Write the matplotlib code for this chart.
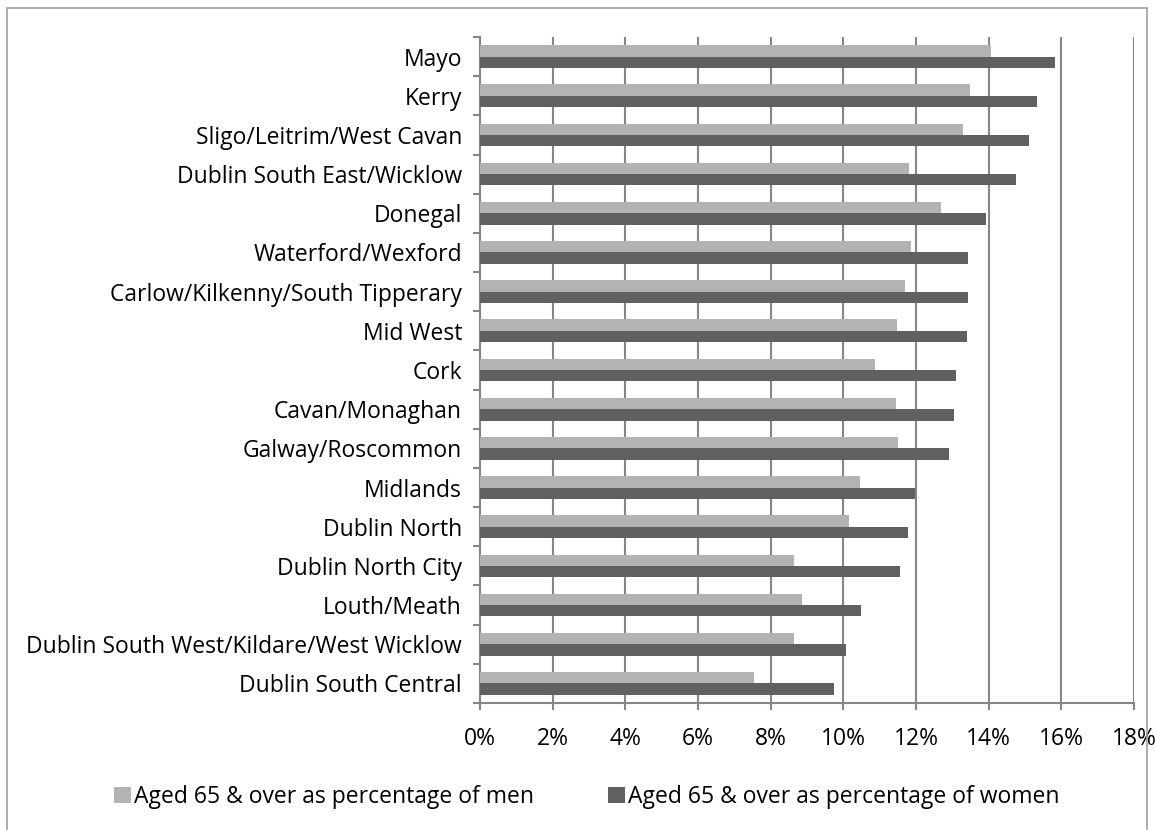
import matplotlib
matplotlib.use('Agg')
import matplotlib.pyplot as plt
import numpy as np
from matplotlib.patches import Rectangle
from matplotlib.ticker import FuncFormatter, MultipleLocator

plt.rcParams['font.family'] = ['Open Sans', 'DejaVu Sans']

# regions, listed bottom to top as they appear on the chart
regions = ['Dublin South Central', 'Dublin South West/Kildare/West Wicklow',
           'Louth/Meath', 'Dublin North City', 'Dublin North', 'Midlands',
           'Galway/Roscommon', 'Cavan/Monaghan', 'Cork', 'Mid West',
           'Carlow/Kilkenny/South Tipperary', 'Waterford/Wexford', 'Donegal',
           'Dublin South East/Wicklow', 'Sligo/Leitrim/West Cavan', 'Kerry', 'Mayo']

# aged 65 & over, % of men / women
men = [7.55, 8.65, 8.87, 8.65, 10.15, 10.45, 11.50, 11.44, 10.88, 11.47,
       11.71, 11.86, 12.68, 11.80, 13.28, 13.48, 14.06]
women = [9.75, 10.06, 10.48, 11.56, 11.77, 11.97, 12.90, 13.04, 13.11, 13.41,
         13.43, 13.43, 13.94, 14.75, 15.11, 15.32, 15.82]

label_men = 'Aged 65 & over as percentage of men'
label_women = 'Aged 65 & over as percentage of women'

c_men = '#b3b3b3'
c_women = '#606060'
grid_c = '#868686'
fs = 16.5

fig = plt.figure(figsize=(11.55, 8.3), dpi=100)
ax = fig.add_axes([480/1155, 1-703/830, 654/1155, 666/830])

y = np.arange(len(regions))
h = 0.29
ax.barh(y + h/2, men, height=h, color=c_men, label=label_men, zorder=3)
ax.barh(y - h/2, women, height=h, color=c_women, label=label_women, zorder=3)

ax.set_xlim(0, 18)
ax.set_ylim(-0.5, len(regions) - 0.5)
ax.xaxis.set_major_locator(MultipleLocator(2))
ax.xaxis.set_major_formatter(FuncFormatter(lambda v, p: '%d%%' % v))
ax.grid(axis='x', color=grid_c, linewidth=1.5, zorder=0)

ax.set_yticks(y)
ax.set_yticklabels(regions)
ax.set_yticks(np.arange(-0.5, len(regions) + 0.5), minor=True)
ax.tick_params(axis='y', which='major', length=0, pad=13, labelsize=fs)
ax.tick_params(axis='y', which='minor', length=5, width=1.5, color=grid_c)
ax.tick_params(axis='x', length=5, width=1.5, color=grid_c, labelsize=fs, pad=12)

for s in ['top', 'right']:
    ax.spines[s].set_visible(False)
for s in ['left', 'bottom']:
    ax.spines[s].set_color(grid_c)
    ax.spines[s].set_linewidth(1.5)

fig.legend(loc='center', bbox_to_anchor=(0.508, 1-797/830), ncol=2,
           frameon=False, fontsize=fs, handlelength=0.75, handleheight=0.75,
           handletextpad=0.15, columnspacing=3.2)

# outer chart border
fig.patches.append(Rectangle((7/1155, -0.05), 1140/1155, 1.05-8/830,
                             transform=fig.transFigure, fill=False,
                             edgecolor='#a0a0a0', linewidth=1.2))

fig.savefig('out.png', dpi=100)
